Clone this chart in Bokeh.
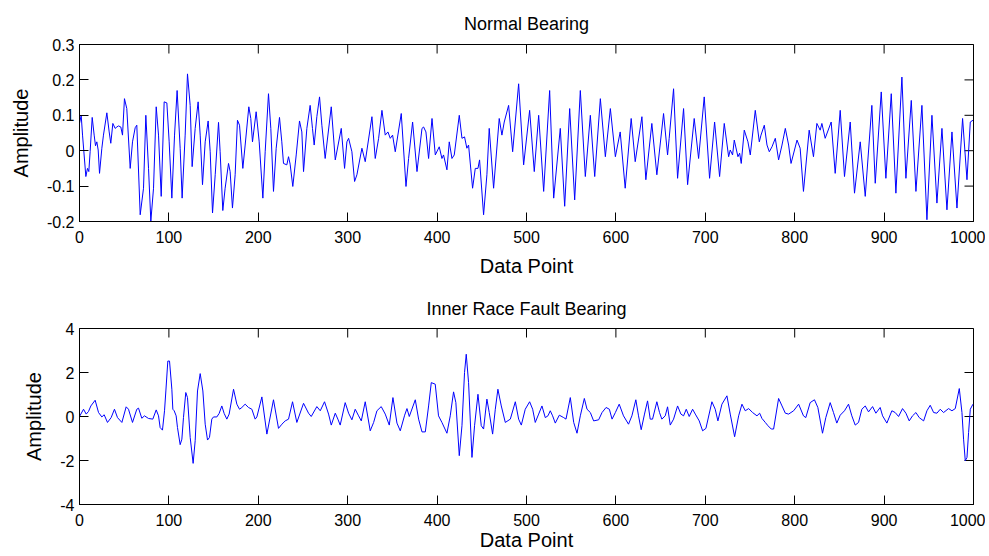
import math
from bokeh.plotting import figure
from bokeh.layouts import column
from bokeh.models import FixedTicker
from bokeh.embed import file_html
from bokeh.resources import INLINE

# ---------------- data ----------------
titles = ["Normal Bearing", "Inner Race Fault Bearing"]
x_label = "Data Point"
y_label = "Amplitude"
x_range = (0, 1000)
y_range_top = (-0.2, 0.3)
y_range_bottom = (-4, 4)
x_ticks = [0, 100, 200, 300, 400, 500, 600, 700, 800, 900, 1000]
y_ticks_top = [-0.2, -0.1, 0, 0.1, 0.2, 0.3]
y_tick_labels_top = ["-0.2", "-0.1", "0", "0.1", "0.2", "0.3"]
y_ticks_bottom = [-4, -2, 0, 2, 4]
y_tick_labels_bottom = ["-4", "-2", "0", "2", "4"]

normal_x = [0, 1.9, 3.4, 7.1, 8.9, 10.4, 11.9, 14.2, 16.4, 17.9, 19.4, 20.9, 22.4, 25.0, 26.8, 30.6, 33.2, 35.0,
            37.3, 39.9, 41.8, 43.6, 46.2, 48.1, 50.3, 52.9, 56.7, 59.3, 62.3, 64.1, 67.9, 71.6, 74.2, 77.2, 79.8,
            82.8, 85.8, 88.4, 91.4, 94.7, 97.7, 100.3, 103.3, 106.3, 109.2, 112.6, 114.8, 118.2, 120.8, 123.8,
            126.0, 129.4, 132.7, 135.0, 137.6, 140.6, 143.9, 146.2, 148.8, 151.8, 155.5, 157.3, 160.3, 162.9,
            166.7, 168.5, 171.1, 174.1, 176.7, 179.0, 182.7, 185.3, 189.4, 191.6, 193.5, 197.6, 201.0, 205.1,
            207.7, 211.4, 214.0, 217.0, 220.0, 223.7, 226.3, 228.2, 231.9, 233.8, 235.6, 238.6, 242.4, 246.1,
            248.7, 250.6, 254.3, 258.0, 260.6, 262.5, 265.5, 268.5, 271.1, 274.8, 281.6, 286.1, 292.8, 296.5,
            299.1, 301.0, 304.7, 307.7, 310.3, 315.9, 319.6, 327.1, 330.8, 334.6, 338.3, 342.0, 345.0, 347.6,
            350.2, 353.2, 359.9, 365.2, 368.1, 372.6, 377.5, 383.1, 384.9, 387.5, 390.5, 394.3, 398.0, 402.4,
            405.4, 407.2, 411.0, 413.6, 416.6, 419.2, 424.8, 427.8, 430.7, 433.3, 435.2, 439.7, 442.7, 445.7,
            447.5, 452.0, 455.7, 458.3, 463.2, 469.5, 472.5, 475.1, 480.0, 484.5, 491.2, 496.8, 503.5, 508.7,
            513.6, 519.2, 525.9, 530.4, 537.8, 542.7, 548.3, 553.9, 560.2, 565.8, 571.4, 576.3, 582.6, 588.2,
            593.8, 599.4, 604.8, 610.4, 617.1, 621.6, 629.1, 633.5, 640.2, 645.8, 653.3, 657.8, 659.6, 664.5,
            669.0, 675.7, 680.2, 687.6, 692.5, 698.8, 704.8, 710.4, 716.0, 721.2, 726.1, 727.9, 730.5, 732.4,
            736.5, 738.4, 740.2, 743.6, 747.7, 750.3, 755.9, 760.4, 762.3, 766.0, 769.0, 771.6, 774.6, 778.3,
            782.0, 785.8, 789.5, 793.2, 795.9, 802.6, 806.1, 809.8, 816.2, 821.0, 824.8, 828.5, 830.4, 834.1,
            840.8, 845.3, 850.9, 855.7, 862.1, 866.9, 873.3, 878.9, 886.3, 890.1, 896.8, 902.0, 908.0, 913.2,
            919.9, 924.4, 930.4, 935.6, 942.3, 947.9, 953.5, 959.1, 964.7, 970.3, 975.9, 981.5, 987.8, 992.7,
            996.4, 999.4]
normal_y = [0.077, 0.100, 0.044, -0.073, -0.050, -0.059, -0.003, 0.094, 0.044, 0.014, 0.025, 0.002, -0.064, 0.007,
            0.044, 0.107, 0.053, 0.021, 0.077, 0.063, 0.067, 0.070, 0.067, 0.044, 0.147, 0.119, -0.050, 0.025,
            0.065, 0.072, -0.181, -0.106, 0.100, -0.050, -0.199, -0.106, 0.124, 0.044, -0.129, 0.138, 0.135,
            0.025, -0.134, 0.044, 0.170, 0.007, -0.134, 0.044, 0.217, 0.128, -0.045, 0.063, 0.138, 0.044, -0.096,
            0.025, 0.084, -0.003, -0.176, -0.068, 0.080, -0.003, -0.169, -0.106, -0.036, -0.059, -0.162, -0.068,
            0.086, 0.072, -0.050, 0.016, 0.124, 0.091, 0.025, 0.110, 0.025, -0.134, -0.003, 0.161, 0.063, -0.115,
            0.007, 0.094, 0.025, -0.036, -0.040, -0.017, -0.038, -0.101, -0.012, 0.084, 0.053, -0.059, 0.063,
            0.128, 0.063, 0.016, 0.096, 0.152, 0.072, -0.022, 0.124, -0.026, 0.063, -0.050, 0.025, 0.035, -0.003,
            -0.087, -0.068, 0.007, -0.031, 0.096, -0.022, 0.035, 0.114, 0.044, 0.053, 0.035, 0.044, -0.003, 0.105,
            -0.101, -0.022, 0.081, -0.059, 0.063, 0.067, 0.053, -0.022, 0.091, -0.012, 0.011, -0.022, -0.012,
            -0.054, 0.025, -0.022, -0.012, 0.100, 0.035, 0.039, 0.007, 0.016, -0.106, -0.050, -0.050, -0.026,
            -0.181, -0.068, 0.063, -0.106, 0.091, 0.044, 0.081, 0.128, -0.003, 0.189, -0.040, 0.114, -0.059,
            0.100, -0.115, 0.170, -0.134, 0.063, -0.157, 0.119, -0.139, 0.170, -0.073, 0.100, -0.073, 0.147,
            -0.017, 0.119, -0.017, 0.053, -0.106, 0.091, -0.031, 0.096, -0.082, 0.077, -0.068, 0.105, -0.012,
            0.035, 0.175, -0.078, 0.119, -0.096, 0.091, -0.022, 0.152, -0.078, 0.081, -0.073, 0.077, -0.017,
            0.002, -0.012, 0.030, -0.017, -0.007, -0.036, 0.058, 0.025, -0.012, 0.114, 0.025, 0.044, 0.072,
            0.016, -0.003, 0.011, 0.035, -0.026, 0.016, 0.063, 0.016, -0.036, 0.030, 0.007, -0.115, 0.058,
            -0.017, 0.077, 0.058, 0.077, 0.035, 0.081, -0.064, 0.114, -0.073, 0.081, -0.120, 0.025, -0.129,
            0.128, -0.092, 0.166, -0.078, 0.161, -0.120, 0.208, -0.078, 0.142, -0.115, 0.128, -0.195, 0.100,
            -0.148, 0.063, -0.167, 0.053, -0.162, 0.091, -0.082, 0.081, 0.086]

fault_x = [0, 4.5, 7.5, 10.1, 12.7, 17.5, 21.3, 25.0, 27.6, 31.3, 35.4, 39.1, 42.5, 47.4, 52.2, 54.8, 59.3, 64.1,
           66.0, 69.7, 72.7, 77.2, 82.0, 85.8, 88.4, 90.2, 92.8, 95.1, 96.6, 98.8, 100.7, 103.3, 104.4, 105.9,
           108.1, 109.6, 112.6, 114.5, 116.3, 118.9, 120.8, 123.8, 127.1, 129.4, 132.0, 135.0, 138.0, 140.6,
           143.2, 145.4, 148.0, 149.9, 153.6, 156.2, 159.2, 161.8, 164.8, 167.4, 172.3, 176.0, 179.0, 181.6,
           185.3, 189.0, 192.8, 196.5, 198.4, 204.0, 209.6, 217.0, 222.6, 226.4, 230.1, 233.8, 238.3, 243.1,
           250.6, 256.2, 259.2, 265.5, 269.3, 274.1, 278.6, 281.6, 286.1, 289.0, 291.6, 297.2, 301.0, 304.7,
           308.4, 312.2, 315.2, 319.6, 325.2, 329.0, 332.7, 337.5, 342.0, 346.5, 350.6, 355.1, 358.8, 363.7,
           366.3, 368.9, 375.6, 379.3, 383.1, 386.8, 390.5, 393.5, 397.9, 401.6, 405.4, 411.0, 414.7, 418.4,
           421.0, 424.8, 427.8, 430.7, 432.6, 435.2, 439.0, 441.9, 445.7, 449.4, 452.0, 455.7, 458.3, 462.1,
           465.1, 468.0, 471.8, 476.3, 481.9, 487.5, 491.2, 494.2, 498.6, 503.5, 506.9, 509.8, 513.6, 517.3,
           521.0, 524.0, 526.6, 529.2, 532.2, 536.7, 541.6, 544.2, 549.0, 552.8, 556.5, 560.2, 564.7, 567.7,
           571.4, 575.1, 580.7, 584.5, 589.0, 592.7, 595.7, 599.4, 603.7, 608.5, 614.1, 617.9, 622.3, 625.3,
           628.3, 632.0, 635.4, 638.4, 641.0, 645.8, 648.8, 651.4, 655.2, 657.8, 660.8, 664.5, 669.0, 672.7,
           675.7, 678.7, 682.0, 685.8, 688.8, 693.2, 697.0, 700.7, 707.4, 711.1, 714.1, 718.6, 724.2, 727.9,
           732.8, 737.3, 741.0, 744.7, 748.5, 752.9, 757.8, 760.8, 763.4, 767.1, 770.1, 773.8, 776.4, 782.0,
           785.8, 789.5, 793.2, 798.8, 804.4, 809.8, 812.4, 817.3, 822.1, 825.9, 831.1, 834.8, 839.7, 843.4,
           847.1, 850.9, 855.7, 860.2, 863.9, 867.7, 871.4, 875.1, 878.9, 882.6, 887.1, 890.8, 895.6, 898.3,
           903.1, 908.7, 912.4, 916.2, 920.6, 924.4, 928.1, 931.8, 935.6, 939.3, 944.2, 947.9, 951.6, 955.4,
           959.1, 962.8, 966.5, 972.1, 975.9, 979.6, 984.1, 987.1, 988.9, 990.8, 992.7, 994.5, 996.4, 999.4]
fault_y = [0.0, 0.33, 0.11, 0.23, 0.48, 0.74, 0.18, -0.02, 0.08, -0.27, -0.05, 0.33, -0.05, -0.27, 0.44, 0.33,
           -0.27, 0.33, 0.38, -0.08, 0.03, -0.09, -0.12, 0.30, 0.03, -0.50, -0.62, 0.26, 1.16, 2.52, 2.52, 1.24,
           0.33, 0.26, 0.03, -0.50, -1.28, -1.03, -0.05, 1.09, 0.86, -0.95, -2.13, -1.10, 1.16, 1.95, 1.16, -0.35,
           -1.07, -0.95, -0.12, -0.02, -0.02, 0.14, 0.48, 0.14, -0.12, 0.11, 1.24, 0.56, 0.33, 0.41, 0.56, 0.41,
           0.33, -0.12, -0.02, 0.89, -0.80, 0.76, -0.54, -0.35, -0.20, -0.12, 0.67, -0.27, 0.60, 0.15, 0.00, 0.45,
           0.26, 0.67, 0.11, -0.39, 0.15, -0.12, -0.39, 0.63, 0.15, -0.15, 0.33, 0.03, -0.20, 0.67, -0.65, -0.27,
           0.26, 0.45, 0.11, -0.39, 0.86, -0.30, -0.65, 0.06, 0.36, 0.00, 0.76, -0.12, -0.70, -0.70, 0.48, 1.54,
           1.47, 0.03, -0.27, -0.76, 0.03, 1.12, 0.63, -1.78, -0.42, 2.00, 2.83, 1.54, -1.86, -0.42, 1.01, -0.42,
           -0.57, 0.79, 0.18, -0.80, 0.33, 1.24, 0.48, -0.27, -0.12, 0.67, -0.12, -0.39, 0.33, 0.67, 0.33, -0.27,
           0.11, 0.48, -0.05, 0.03, 0.26, 0.03, -0.30, 0.06, -0.05, -0.12, 0.86, -0.27, -0.76, 0.03, 0.82, 0.33,
           0.18, -0.20, -0.15, 0.18, 0.41, 0.33, -0.12, 0.18, 0.56, 0.03, -0.35, 0.03, 0.76, 0.03, -0.60, 0.11,
           0.71, -0.12, -0.12, 0.67, 0.18, -0.12, 0.03, 0.44, -0.39, -0.12, 0.48, 0.11, 0.03, 0.33, 0.00, 0.33,
           0.11, -0.20, -0.65, -0.54, 0.67, 0.33, -0.20, 0.56, 0.94, 0.11, -0.92, 0.03, 0.56, 0.26, 0.36, 0.18,
           0.03, 0.15, -0.09, -0.27, -0.42, -0.57, -0.57, 0.82, 0.48, 0.15, 0.11, 0.26, 0.56, 0.03, -0.05, 0.63,
           0.76, 0.41, -0.76, -0.05, 0.63, 0.18, -0.30, 0.06, 0.26, 0.56, 0.03, -0.39, -0.27, 0.33, 0.48, 0.21,
           0.45, 0.15, 0.41, 0.03, -0.30, 0.26, 0.18, 0.00, 0.36, 0.15, -0.20, 0.03, 0.18, -0.05, -0.20, 0.26,
           0.51, 0.18, 0.15, 0.33, 0.18, 0.36, 0.26, 0.36, 1.27, 0.18, -1.03, -2.01, -1.86, -0.73, 0.33, 0.56]

FONT = "Liberation Sans"


def style(p, y_ticks, y_labels, y_rng, title_standoff):
    p.xgrid.visible = False
    p.ygrid.visible = False
    p.outline_line_color = "black"
    p.outline_line_width = 1
    p.background_fill_color = "white"
    p.border_fill_color = "white"
    p.title.text_font = FONT
    p.title.text_font_size = "18px"
    p.title.text_font_style = "normal"
    p.title.text_color = "black"
    p.title.align = "center"
    p.title.standoff = title_standoff
    p.xaxis.ticker = FixedTicker(ticks=x_ticks)
    p.yaxis.ticker = FixedTicker(ticks=y_ticks)
    p.yaxis.major_label_overrides = {t: lab for t, lab in zip(y_ticks, y_labels)}
    p.xaxis.axis_label = x_label
    p.yaxis.axis_label = y_label
    for ax in (p.xaxis, p.yaxis):
        ax.axis_line_color = "black"
        ax.major_tick_line_color = "black"
        ax.major_tick_in = 9
        ax.major_tick_out = 0
        ax.minor_tick_line_color = None
        ax.major_label_text_font = FONT
        ax.major_label_text_font_size = "16px"
        ax.major_label_text_color = "black"
        ax.axis_label_text_font = FONT
        ax.axis_label_text_font_size = "20px"
        ax.axis_label_text_font_style = "normal"
        ax.axis_label_text_color = "black"
    p.xaxis.major_label_standoff = 9
    p.yaxis.major_label_standoff = 5
    p.yaxis.axis_label_standoff = 12
    # inward ticks on the top and right edges of the box (half of each dash is clipped by the frame)
    p.scatter(x=x_ticks, y=[y_rng[1]] * len(x_ticks), marker="dash", angle=math.pi / 2,
              size=18, line_color="black", line_width=1)
    p.scatter(x=[x_range[1]] * len(y_ticks), y=y_ticks, marker="dash",
              size=18, line_color="black", line_width=1)


p1 = figure(frame_width=894, frame_height=177, x_range=x_range, y_range=y_range_top,
            title=titles[0], output_backend="svg", toolbar_location=None,
            min_border_left=79, min_border_right=12, min_border_top=43, min_border_bottom=60)
style(p1, y_ticks_top, y_tick_labels_top, y_range_top, 22)
p1.xaxis.axis_label_standoff = 9
p1.line(normal_x, normal_y, line_color="#0000ff", line_width=1)

p2 = figure(frame_width=894, frame_height=176, x_range=x_range, y_range=y_range_bottom,
            title=titles[1], output_backend="svg", toolbar_location=None,
            min_border_left=79, min_border_right=12, min_border_top=47, min_border_bottom=52)
style(p2, y_ticks_bottom, y_tick_labels_bottom, y_range_bottom, 19)
p2.xaxis.axis_label_standoff = 0
p2.line(fault_x, fault_y, line_color="#0000ff", line_width=1)

layout = column(p1, p2)
open("out.html", "w").write(file_html(layout, INLINE))
